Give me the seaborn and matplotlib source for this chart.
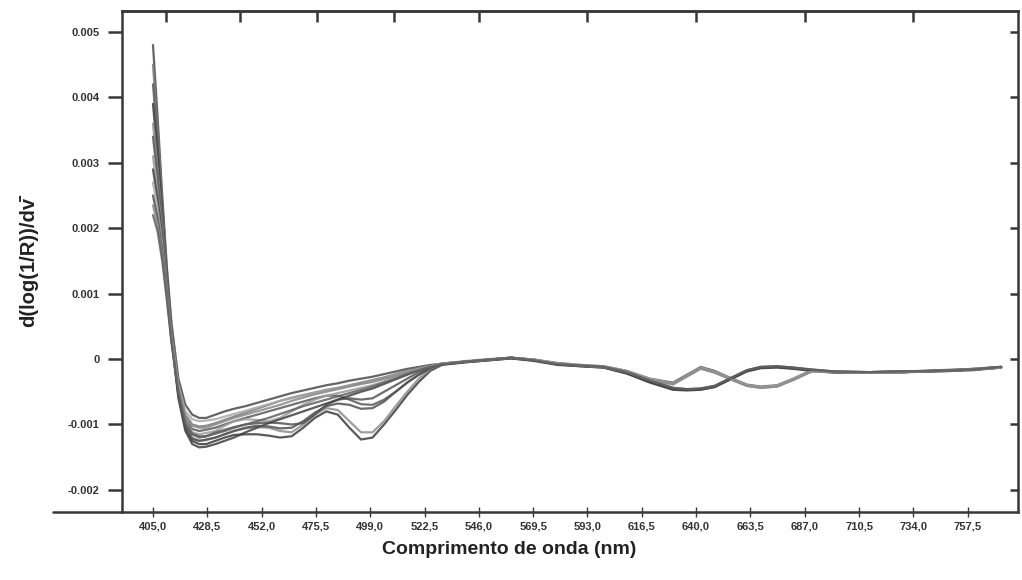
import matplotlib
matplotlib.use("Agg")
import matplotlib.pyplot as plt
import numpy as np
import pandas as pd
import seaborn as sns

# ---------------- data (values in units of 0.001) ----------------
wavelength_nm = [405, 407, 409, 411, 413, 416, 419, 422, 425, 428,
                 432, 436, 440, 445, 450, 455, 460, 465, 470, 475,
                 480, 485, 490, 495, 500, 505, 510, 515, 520, 525, 530,
                 540, 550, 560, 570, 580, 590, 600, 610, 620, 630, 636,
                 642, 648, 655, 662, 668, 675, 682, 690, 700, 715, 730,
                 745, 760, 772]

curve_01 = [4.8, 3.7, 2.5, 1.4, 0.55, -0.3, -0.7, -0.85, -0.9, -0.9,
            -0.85, -0.8, -0.76, -0.72, -0.67, -0.62, -0.57, -0.52, -0.48, -0.44,
            -0.4, -0.37, -0.33, -0.3, -0.27, -0.23, -0.19, -0.15, -0.12, -0.09, -0.07,
            -0.04, -0.01, 0.02, -0.01, -0.07, -0.1, -0.12, -0.19, -0.31, -0.37, -0.25,
            -0.13, -0.19, -0.3, -0.4, -0.43, -0.41, -0.31, -0.18, -0.2, -0.21, -0.2,
            -0.18, -0.16, -0.13]
curve_02 = [4.5, 3.5, 2.4, 1.35, 0.5, -0.4, -0.85, -1.0, -1.03, -1.02,
            -0.98, -0.93, -0.88, -0.82, -0.76, -0.7, -0.64, -0.59, -0.55, -0.51,
            -0.47, -0.44, -0.4, -0.36, -0.32, -0.28, -0.23, -0.18, -0.14, -0.1, -0.07,
            -0.04, -0.01, 0.02, -0.02, -0.08, -0.1, -0.12, -0.2, -0.33, -0.45, -0.47,
            -0.46, -0.42, -0.3, -0.18, -0.13, -0.12, -0.14, -0.17, -0.2, -0.2, -0.19,
            -0.18, -0.16, -0.12]
curve_03 = [4.2, 3.3, 2.3, 1.3, 0.45, -0.45, -0.92, -1.07, -1.1, -1.08,
            -1.05, -1.0, -0.95, -0.9, -0.85, -0.8, -0.75, -0.7, -0.65, -0.6,
            -0.56, -0.56, -0.62, -0.69, -0.7, -0.62, -0.5, -0.36, -0.24, -0.14, -0.08,
            -0.04, -0.01, 0.02, -0.01, -0.06, -0.09, -0.11, -0.18, -0.3, -0.36, -0.24,
            -0.12, -0.18, -0.29, -0.39, -0.42, -0.4, -0.3, -0.17, -0.19, -0.2, -0.19,
            -0.17, -0.15, -0.12]
curve_04 = [3.9, 3.1, 2.2, 1.25, 0.4, -0.55, -1.05, -1.25, -1.3, -1.3,
            -1.25, -1.2, -1.16, -1.15, -1.15, -1.17, -1.2, -1.18, -1.05, -0.9,
            -0.8, -0.85, -1.05, -1.23, -1.2, -1.0, -0.78, -0.55, -0.35, -0.18, -0.09,
            -0.05, -0.02, 0.01, -0.02, -0.08, -0.11, -0.13, -0.22, -0.36, -0.47, -0.48,
            -0.47, -0.43, -0.31, -0.19, -0.14, -0.13, -0.15, -0.18, -0.21, -0.21, -0.2,
            -0.19, -0.17, -0.13]
curve_05 = [3.6, 2.9, 2.1, 1.2, 0.38, -0.55, -1.02, -1.2, -1.25, -1.24,
            -1.2, -1.15, -1.1, -1.06, -1.04, -1.05, -1.1, -1.12, -1.0, -0.85,
            -0.75, -0.78, -0.95, -1.12, -1.12, -0.95, -0.72, -0.5, -0.3, -0.15, -0.08,
            -0.04, -0.01, 0.02, -0.01, -0.07, -0.1, -0.12, -0.2, -0.33, -0.39, -0.27,
            -0.15, -0.21, -0.31, -0.41, -0.44, -0.42, -0.32, -0.19, -0.2, -0.21, -0.2,
            -0.18, -0.16, -0.13]
curve_06 = [3.4, 2.75, 2.0, 1.15, 0.35, -0.5, -0.98, -1.15, -1.2, -1.18,
            -1.14, -1.1, -1.05, -1.0, -0.98, -0.97, -0.98, -1.0, -0.98, -0.85,
            -0.7, -0.62, -0.6, -0.62, -0.6, -0.5, -0.4, -0.3, -0.2, -0.12, -0.07,
            -0.04, -0.01, 0.02, -0.02, -0.07, -0.1, -0.12, -0.21, -0.34, -0.44, -0.46,
            -0.45, -0.41, -0.29, -0.17, -0.12, -0.11, -0.13, -0.16, -0.19, -0.2, -0.19,
            -0.18, -0.15, -0.12]
curve_07 = [3.1, 2.55, 1.9, 1.1, 0.32, -0.5, -0.95, -1.12, -1.15, -1.13,
            -1.1, -1.02, -0.95, -0.92, -0.93, -0.95, -0.9, -0.8, -0.7, -0.62,
            -0.56, -0.52, -0.48, -0.44, -0.4, -0.34, -0.28, -0.22, -0.16, -0.11, -0.07,
            -0.03, 0.0, 0.02, -0.01, -0.06, -0.09, -0.11, -0.18, -0.3, -0.37, -0.26,
            -0.14, -0.2, -0.3, -0.4, -0.43, -0.41, -0.31, -0.18, -0.2, -0.2, -0.19,
            -0.18, -0.15, -0.12]
curve_08 = [2.9, 2.45, 1.85, 1.1, 0.3, -0.6, -1.1, -1.3, -1.35, -1.34,
            -1.3, -1.25, -1.2, -1.12, -1.05, -0.98, -0.92, -0.86, -0.8, -0.74,
            -0.68, -0.62, -0.56, -0.5, -0.45, -0.38, -0.31, -0.24, -0.17, -0.12, -0.08,
            -0.05, -0.02, 0.01, -0.03, -0.09, -0.11, -0.13, -0.22, -0.35, -0.46, -0.47,
            -0.46, -0.42, -0.3, -0.18, -0.13, -0.12, -0.14, -0.17, -0.2, -0.21, -0.2,
            -0.18, -0.16, -0.13]
curve_09 = [2.7, 2.3, 1.75, 1.05, 0.35, -0.4, -0.8, -0.92, -0.95, -0.94,
            -0.92, -0.88, -0.84, -0.79, -0.74, -0.69, -0.64, -0.6, -0.56, -0.52,
            -0.48, -0.45, -0.41, -0.38, -0.34, -0.3, -0.25, -0.2, -0.15, -0.11, -0.07,
            -0.04, -0.01, 0.02, -0.01, -0.07, -0.1, -0.12, -0.19, -0.32, -0.38, -0.25,
            -0.13, -0.19, -0.3, -0.4, -0.43, -0.41, -0.31, -0.18, -0.2, -0.21, -0.2,
            -0.18, -0.16, -0.13]
curve_10 = [2.5, 2.15, 1.65, 1.0, 0.3, -0.55, -1.05, -1.22, -1.25, -1.23,
            -1.2, -1.15, -1.1, -1.05, -1.02, -1.03, -1.06, -1.05, -0.95, -0.82,
            -0.72, -0.68, -0.7, -0.76, -0.75, -0.65, -0.5, -0.36, -0.24, -0.14, -0.08,
            -0.04, -0.01, 0.02, -0.02, -0.08, -0.1, -0.12, -0.2, -0.33, -0.45, -0.47,
            -0.46, -0.42, -0.3, -0.18, -0.13, -0.12, -0.14, -0.17, -0.2, -0.2, -0.19,
            -0.18, -0.16, -0.12]
curve_11 = [2.35, 2.05, 1.6, 0.95, 0.3, -0.45, -0.88, -1.02, -1.05, -1.05,
            -1.0, -0.95, -0.9, -0.85, -0.8, -0.75, -0.7, -0.64, -0.59, -0.54,
            -0.5, -0.46, -0.42, -0.38, -0.35, -0.3, -0.26, -0.21, -0.16, -0.11, -0.07,
            -0.04, -0.01, 0.02, -0.01, -0.07, -0.1, -0.12, -0.2, -0.32, -0.38, -0.26,
            -0.14, -0.2, -0.31, -0.41, -0.44, -0.42, -0.32, -0.19, -0.2, -0.21, -0.2,
            -0.18, -0.16, -0.13]
curve_12 = [2.2, 1.95, 1.5, 0.9, 0.25, -0.5, -0.98, -1.14, -1.18, -1.18,
            -1.12, -1.08, -1.04, -1.0, -0.95, -0.9, -0.84, -0.78, -0.72, -0.67,
            -0.62, -0.57, -0.52, -0.47, -0.42, -0.36, -0.3, -0.23, -0.17, -0.12, -0.08,
            -0.04, -0.01, 0.02, -0.02, -0.08, -0.1, -0.12, -0.2, -0.33, -0.44, -0.46,
            -0.45, -0.41, -0.29, -0.17, -0.12, -0.11, -0.13, -0.16, -0.19, -0.2, -0.19,
            -0.18, -0.16, -0.12]

curves = [curve_01, curve_02, curve_03, curve_04, curve_05, curve_06,
          curve_07, curve_08, curve_09, curve_10, curve_11, curve_12]

x_ticks = [405.0, 428.5, 452.0, 475.5, 499.0, 522.5, 546.0, 569.5,
           593.0, 616.5, 640.0, 663.5, 687.0, 710.5, 734.0, 757.5]
x_tick_labels = ["405,0", "428,5", "452,0", "475,5", "499,0", "522,5",
                 "546,0", "569,5", "593,0", "616,5", "640,0", "663,5",
                 "687,0", "710,5", "734,0", "757,5"]
top_ticks = [410.5, 442.5, 476.0, 509.5, 546.0, 593.0, 640.0, 687.0, 734.0]
y_ticks = [-0.002, -0.001, 0.0, 0.001, 0.002, 0.003, 0.004, 0.005]
y_tick_labels = ["-0.002", "-0.001", "0", "0.001", "0.002", "0.003",
                 "0.004", "0.005"]

line_greys = ["#4a4a4a", "#7a7a7a", "#5a5a5a", "#3c3c3c", "#8c8c8c",
              "#555555", "#9c9c9c", "#404040", "#a8a8a8", "#505050",
              "#8a8a8a", "#606060"]

# ---------------- build table ----------------
frames = []
for i, vals in enumerate(curves):
    frames.append(pd.DataFrame({
        "comprimento": wavelength_nm,
        "valor": np.array(vals) * 1e-3,
        "amostra": f"a{i + 1:02d}",
    }))
df = pd.concat(frames, ignore_index=True)

# ---------------- plot ----------------
sns.set_theme(style="white")
plt.rcParams["font.family"] = ["Liberation Sans", "DejaVu Sans"]

fig = plt.figure(figsize=(10.22, 5.80), dpi=100)
ax = fig.add_axes([0.1194, 0.117, 0.8767, 0.864])

sns.lineplot(data=df, x="comprimento", y="valor", hue="amostra",
             palette=line_greys, estimator=None, sort=False, legend=False,
             lw=1.6, alpha=0.85, ax=ax)

ax.set_xlim(391.6, 779.3)
ax.set_ylim(-0.00234, 0.00532)

spine_c = "#383838"
for s in ax.spines.values():
    s.set_color(spine_c)
    s.set_linewidth(1.8)

ax.set_xticks(x_ticks)
ax.set_xticklabels(x_tick_labels, fontsize=8, fontweight="bold", color="#333333")
ax.set_yticks(y_ticks)
ax.set_yticklabels(y_tick_labels, fontsize=8, fontweight="bold", color="#333333")

ax.tick_params(axis="y", which="major", left=True, right=True,
               direction="out", length=10, width=1.8, color=spine_c, pad=6)
ax.tick_params(axis="y", which="major", right=True, labelright=False)
ax.tick_params(axis="x", which="major", bottom=True, direction="inout",
               length=7, width=1.0, color=spine_c, pad=3)

# right side ticks point inward
for t in ax.yaxis.get_major_ticks():
    t.tick2line.set_markersize(6)
    t.tick2line.set_marker(matplotlib.lines.TICKLEFT)

secax = ax.secondary_xaxis("top")
secax.set_xticks(top_ticks)
secax.set_xticklabels([])
secax.tick_params(direction="in", length=8, width=1.8, color=spine_c)
secax.spines["top"].set_color(spine_c)
secax.spines["top"].set_linewidth(1.8)

# bottom rule extends to the left of the y axis
ax.plot([-0.077, 0.0], [0.0, 0.0], transform=ax.transAxes, clip_on=False,
        color=spine_c, lw=1.8)

ax.set_xlabel("Comprimento de onda (nm)", fontsize=14, fontweight="bold",
              color="#222222")
ax.xaxis.set_label_coords(0.432, -0.058)
ax.set_ylabel("d(log(1/R))/dv\u0304", fontsize=14.5, fontweight="bold",
              color="#222222")
ax.yaxis.set_label_coords(-0.094, 0.5)

fig.savefig("out.png", dpi=100)
